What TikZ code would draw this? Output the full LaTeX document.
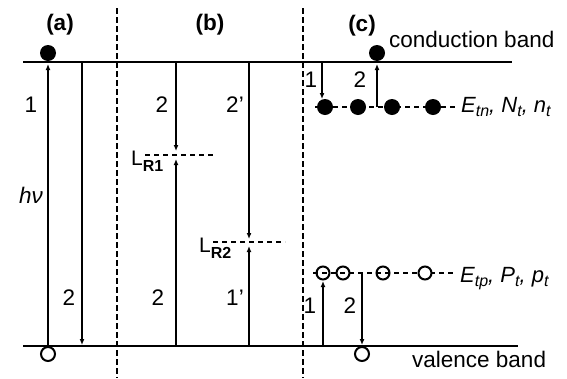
\documentclass[tikz,border=0pt]{standalone}
\usepackage{fontspec}
\setmainfont{Liberation Sans}
\usetikzlibrary{arrows.meta}
% lowered subscript used in the level names
\newcommand{\lowsub}[1]{\raisebox{-0.4ex}{\fontsize{16}{16}\selectfont #1}}
% deeper subscript for the recombination level labels
\newcommand{\lrsub}[1]{\raisebox{-0.6ex}{\fontsize{16}{16}\selectfont\bfseries #1}}
\newcommand{\prm}{{\char"27}}
\begin{document}
\begin{tikzpicture}[x=1pt,y=-1pt,
  band/.style={line width=1.5pt},
  trans/.style={line width=2.2pt},
  tipped/.style={-{Latex[length=6pt,width=5pt]}},
  sep/.style={line width=2.2pt, dash pattern=on 6pt off 3pt},
  level/.style={line width=1.2pt, dash pattern=on 5pt off 4pt},
  electron/.style={circle, fill=black, inner sep=0pt, minimum size=16pt},
  hole/.style={circle, draw, line width=2pt, inner sep=0pt, minimum size=14pt},
  lbl/.style={font=\fontsize{22.5}{22.5}\selectfont, inner sep=0pt, anchor=base},
  head/.style={font=\fontsize{22.5}{22.5}\selectfont\bfseries, inner sep=0pt, anchor=base},
  txt/.style={font=\fontsize{22.5}{22.5}\selectfont, inner sep=0pt, anchor=base west},
  lname/.style={font=\fontsize{22}{22}\selectfont\itshape, inner sep=0pt, anchor=base west},
  lr/.style={font=\fontsize{21}{21}\selectfont, inner sep=0pt, anchor=base west}
]
\useasboundingbox (0,0) rectangle (567,378);

% band edges
\coordinate (cbL) at (23,62);  \coordinate (cbR) at (512,62);
\coordinate (vbL) at (23,346); \coordinate (vbR) at (518,346);
\draw[band] (cbL) -- (cbR);
\draw[band] (vbL) -- (vbR);

% panel separators
\coordinate (s1t) at (117,8); \coordinate (s1b) at (117,378);
\coordinate (s2t) at (303,8); \coordinate (s2b) at (303,378);
\draw[sep] (s1t) -- (s1b);
\draw[sep] (s2t) -- (s2b);

% panel headings
\node[head] (ha) at (60,30) {(a)};
\node[head] (hb) at (210,30) {(b)};
\node[head] (hc) at (362,31) {(c)};

% ---------- (a) band-to-band ----------
\coordinate (a1b) at (48,346); \coordinate (a1t) at (48,64);
\draw[trans,tipped] (a1b) -- (a1t);
\coordinate (a2t) at (82,62); \coordinate (a2b) at (82,345);
\draw[trans,tipped] (a2t) -- (a2b);
\node[electron] (ea) at (48,53) {};
\node[hole] (hola) at (48,354) {};
\node[lbl] (na1) at (31,112) {1};
\node[lbl] (nhv) at (31,203) {\itshape hν};
\node[lbl] (na2) at (69,305) {2};

% ---------- (b) recombination levels ----------
\coordinate (b1t) at (176,62); \coordinate (b1u) at (176,151);
\coordinate (b1l) at (176,159); \coordinate (b1b) at (176,346);
\draw[trans,tipped] (b1t) -- (b1u);
\draw[trans,tipped] (b1b) -- (b1l);
\coordinate (lr1a) at (145,155); \coordinate (lr1b) at (215,155);
\draw[level] (lr1a) -- (lr1b);
\node[lr] (nlr1) at (131,165) {L\lrsub{R1}};

\coordinate (b2t) at (249,62); \coordinate (b2u) at (249,239);
\coordinate (b2l) at (249,246); \coordinate (b2b) at (249,346);
\draw[trans,tipped] (b2t) -- (b2u);
\draw[trans,tipped] (b2b) -- (b2l);
\coordinate (lr2a) at (213,242); \coordinate (lr2b) at (285,242);
\draw[level] (lr2a) -- (lr2b);
\node[lr] (nlr2) at (199,252) {L\lrsub{R2}};

\node[lbl] (nb2) at (162,112) {2};
\node[lbl] (nb2p) at (235,112) {2\prm};
\node[lbl] (nb2l) at (158,305) {2};
\node[lbl] (nb1p) at (235,305) {1\prm};

% ---------- (c) trap levels ----------
\coordinate (etnA) at (315,107); \coordinate (etnB) at (457,107);
\draw[level] (etnA) -- (etnB);
\coordinate (c1t) at (322,62); \coordinate (c1b) at (322,99);
\draw[trans,tipped] (c1t) -- (c1b);
\coordinate (c2b) at (377,107); \coordinate (c2t) at (377,64);
\draw[trans,tipped] (c2b) -- (c2t);
\node[electron] (t1) at (325,107) {};
\node[electron] (t2) at (358,107) {};
\node[electron] (t3) at (392,107) {};
\node[electron] (t4) at (433,107) {};
\node[electron] (ec) at (377,53) {};
\node[lbl] (nc1) at (311,87) {1};
\node[lbl] (nc2) at (360,87) {2};
\node[txt] (ncb) at (389,47) {conduction band};
\node[lname] (netn) at (461,112) {E\lowsub{tn}, N\lowsub{t}, n\lowsub{t}};

\coordinate (etpA) at (313,273); \coordinate (etpB) at (453,273);
\draw[level] (etpA) -- (etpB);
\coordinate (c3b) at (323,346); \coordinate (c3t) at (323,281);
\draw[trans,tipped] (c3b) -- (c3t);
\coordinate (c4t) at (362,273); \coordinate (c4b) at (362,345);
\draw[trans,tipped] (c4t) -- (c4b);
\node[hole, minimum size=13pt] (p1) at (323,273) {};
\node[hole, minimum size=13pt] (p2) at (343,273) {};
\node[hole, minimum size=13pt] (p3) at (383,273) {};
\node[hole, minimum size=13pt, fill=white] (p4) at (425,273) {};
\node[hole] (holc) at (362,354) {};
\node[lbl] (nc3) at (310,313) {1};
\node[lbl] (nc4) at (350,313) {2};
\node[txt] (nvb) at (412,367) {valence band};
\node[lname] (netp) at (460,282) {E\lowsub{tp}, P\lowsub{t}, p\lowsub{t}};
\end{tikzpicture}
\end{document}
